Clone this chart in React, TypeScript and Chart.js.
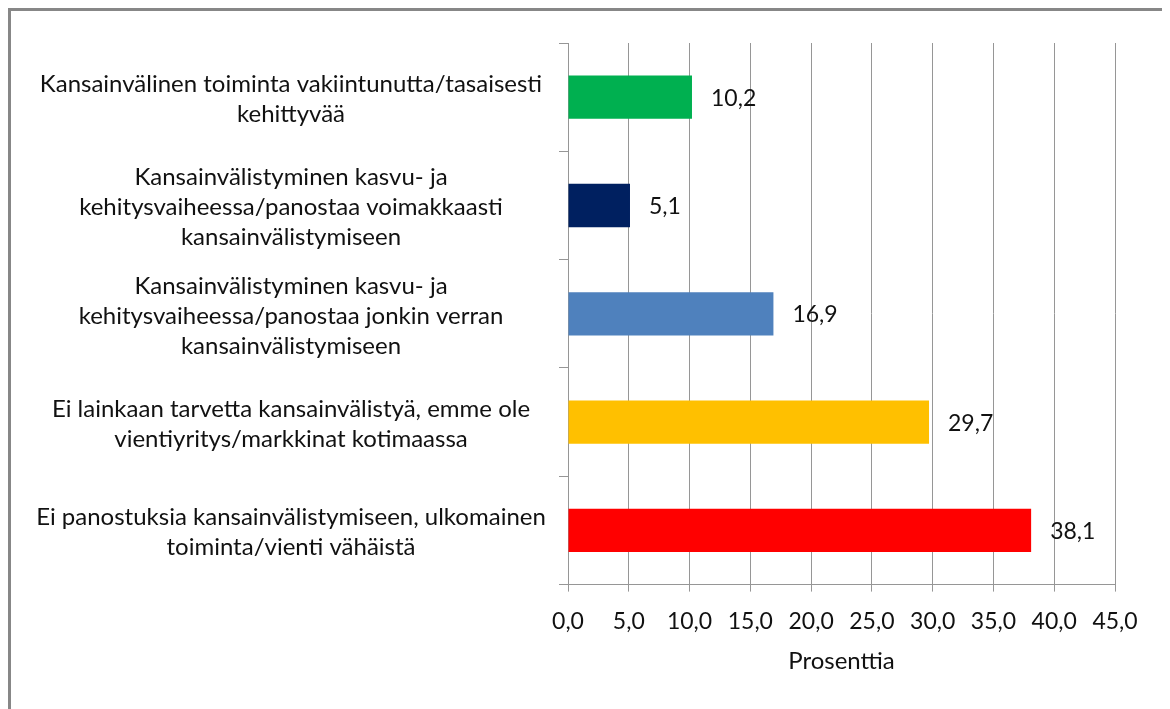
import React, { useEffect, useRef } from "react";
import { Chart, registerables } from "chart.js";

Chart.register(...registerables);

const categories: string[][] = [
  ["Kansainvälinen toiminta vakiintunutta/tasaisesti", "kehittyvää"],
  ["Kansainvälistyminen kasvu- ja", "kehitysvaiheessa/panostaa voimakkaasti", "kansainvälistymiseen"],
  ["Kansainvälistyminen kasvu- ja", "kehitysvaiheessa/panostaa jonkin verran", "kansainvälistymiseen"],
  ["Ei lainkaan tarvetta kansainvälistyä, emme ole", "vientiyritys/markkinat kotimaassa"],
  ["Ei panostuksia kansainvälistymiseen, ulkomainen", "toiminta/vienti vähäistä"],
];
const values: number[] = [10.2, 5.1, 16.9, 29.7, 38.1];
const barColors: string[] = ["#00B050", "#002060", "#4F81BD", "#FFC000", "#FF0000"];
const axisTitle = "Prosenttia";
const xMin = 0;
const xMax = 45;
const xStep = 5;

const FONT = "Lato";
const TEXT = "#111111";
const GRID = "#969696";

const fmt = (v: number) => v.toFixed(1).replace(".", ",");

const valueLabels = {
  id: "valueLabels",
  afterDatasetsDraw(chart: any) {
    const ctx = chart.ctx;
    const meta = chart.getDatasetMeta(0);
    ctx.save();
    ctx.font = `23px ${FONT}`;
    ctx.fillStyle = TEXT;
    ctx.textAlign = "left";
    ctx.textBaseline = "middle";
    meta.data.forEach((bar: any, i: number) => {
      ctx.fillText(fmt(values[i]), bar.x + 19, bar.y + 1);
    });
    ctx.restore();
  },
};

const categoryLabels = {
  id: "categoryLabels",
  afterDraw(chart: any) {
    const ctx = chart.ctx;
    const yScale = chart.scales.y;
    const lineH = 30;
    const cx = yScale.right - 277;
    ctx.save();
    ctx.font = `24px ${FONT}`;
    ctx.fillStyle = TEXT;
    ctx.textAlign = "center";
    ctx.textBaseline = "middle";
    categories.forEach((lines, i) => {
      const cy = yScale.getPixelForValue(i) + 2;
      const start = cy - ((lines.length - 1) * lineH) / 2;
      lines.forEach((ln, j) => ctx.fillText(ln, cx, start + j * lineH));
    });
    ctx.restore();
  },
};

export default function App() {
  const ref = useRef<HTMLCanvasElement | null>(null);
  useEffect(() => {
    if (!ref.current) return;
    const chart = new Chart(ref.current, {
      type: "bar",
      data: {
        labels: categories,
        datasets: [
          {
            data: values,
            backgroundColor: barColors,
            borderWidth: 0,
            categoryPercentage: 1,
            barPercentage: 0.4,
          },
        ],
      },
      options: {
        indexAxis: "y",
        animation: false,
        responsive: false,
        layout: { padding: { top: 32, right: 55, bottom: 33, left: 0 } },
        plugins: {
          legend: { display: false },
          tooltip: { enabled: false },
        },
        scales: {
          x: {
            min: xMin,
            max: xMax,
            ticks: {
              stepSize: xStep,
              callback: (v: any) => fmt(Number(v)),
              color: TEXT,
              font: { family: FONT, size: 23 },
              padding: 16,
              maxRotation: 0,
            },
            grid: { color: GRID, lineWidth: 1, drawTicks: true, tickLength: 7, tickColor: GRID },
            border: { color: GRID, width: 1 },
            title: {
              display: true,
              text: axisTitle,
              color: TEXT,
              font: { family: FONT, size: 24 },
              padding: { top: -4, bottom: 0 },
            },
          },
          y: {
            ticks: { display: false, autoSkip: false },
            grid: {
              offset: true,
              drawOnChartArea: false,
              drawTicks: true,
              tickLength: 9,
              color: GRID,
              tickColor: GRID,
            },
            border: { color: GRID, width: 1 },
            afterFit: (s: any) => {
              s.width = 557;
              s.paddingTop = 0;
              s.paddingBottom = 0;
            },
          },
        },
      },
      plugins: [valueLabels, categoryLabels],
    } as any);
    return () => chart.destroy();
  }, []);

  return (
    <div style={{ width: 1162, height: 701, overflow: "hidden" }}>
      <div
        style={{
          width: 1200,
          height: 760,
          borderTop: "3px solid #878787",
          borderLeft: "3px solid #878787",
          background: "#fff",
        }}
      >
        <canvas ref={ref} width={1159} height={698} style={{ display: "block" }} />
      </div>
    </div>
  );
}
